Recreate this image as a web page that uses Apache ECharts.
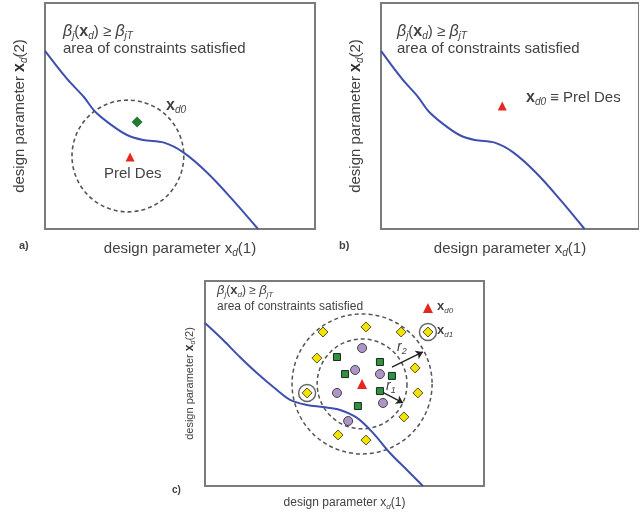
<!DOCTYPE html>
<html>
<head>
<meta charset="utf-8">
<script src="https://cdn.jsdelivr.net/npm/echarts@6/dist/echarts.min.js"></script>
<style>
  html, body { margin: 0; padding: 0; background: #fff; }
  #chart { width: 639px; height: 516px; }
</style>
</head>
<body>
<div id="chart"></div>
<script>
// Constraint boundary beta_j(x_d) = beta_jT, normalised design space (panels a and b)
const boundaryAB = [
  [0, 0.788], [0.081, 0.665], [0.144, 0.584], [0.185, 0.520], [0.244, 0.462],
  [0.304, 0.416], [0.363, 0.394], [0.441, 0.382], [0.511, 0.340], [0.600, 0.250],
  [0.696, 0.128], [0.789, 0]
];
// Same boundary as drawn in panel c
const boundaryC = [
  [0, 0.795], [0.065, 0.712], [0.125, 0.629], [0.186, 0.551], [0.258, 0.468],
  [0.305, 0.420], [0.366, 0.395], [0.423, 0.385], [0.484, 0.371], [0.545, 0.332],
  [0.602, 0.259], [0.663, 0.161], [0.724, 0.078], [0.781, 0]
];

// Panel a: preliminary design, starting point x_d0 and search region [x, y, radius]
const prelDesA = [[0.315, 0.319]];
const startPointA = [[0.341, 0.473]];
const searchRegionA = [[0.307, 0.323, 0.207]];

// Panel b: starting point coincides with the preliminary design
const prelDesB = [[0.470, 0.544]];

// Panel c: sampling around x_d0 in two rings of radius r1 and r2
const centreC = [[0.563, 0.498]];
const ringRadiiC = [0.161, 0.251];
const outerSamplesC = [
  [0.423, 0.751], [0.577, 0.776], [0.703, 0.751], [0.401, 0.624], [0.753, 0.576],
  [0.763, 0.454], [0.713, 0.337], [0.477, 0.249], [0.577, 0.224], [0.366, 0.454]
];
const circleSamplesC = [
  [0.563, 0.673], [0.538, 0.566], [0.627, 0.546], [0.473, 0.454], [0.638, 0.405], [0.513, 0.317]
];
const squareSamplesC = [
  [0.473, 0.629], [0.627, 0.605], [0.502, 0.546], [0.670, 0.537], [0.627, 0.463], [0.548, 0.390]
];
const nextPointC = [[0.366, 0.454]];
const legendMarksC = { start: [[0.799, 0.868]], next: [[0.799, 0.751]] };
const radiusArrowsC = [
  [[0.634, 0.459], [0.710, 0.405]],
  [[0.670, 0.580], [0.781, 0.654]]
];

const FONT = '"Liberation Sans", Arial, sans-serif';
const TXT = '#424242';

function richSet(size) {
  const sub = Math.round(size * 0.68);
  return {
    n: { fontSize: size, fontFamily: FONT, color: TXT, lineHeight: size + 4 },
    x: { fontSize: size + 1, fontFamily: FONT, color: '#333', fontWeight: 'bold', lineHeight: size + 4 },
    s: { fontSize: sub, fontFamily: FONT, color: TXT, fontStyle: 'italic',
         lineHeight: sub + 1, verticalAlign: 'bottom' },
    b: { fontSize: size + 1, fontFamily: FONT, color: '#333', fontStyle: 'italic', lineHeight: size + 4 },
    p: { fontSize: size, fontFamily: FONT, color: '#222', fontWeight: 'bold', lineHeight: size + 4 }
  };
}

function frameGrid(left, top, width, height) {
  return { left, top, width, height, show: true, borderColor: '#7b7b7b', borderWidth: 2,
           backgroundColor: 'transparent', containLabel: false };
}

function axis(kind, idx, label, gap, size) {
  return {
    type: 'value', gridIndex: idx, min: 0, max: 1,
    axisLine: { show: false }, axisTick: { show: false }, axisLabel: { show: false },
    splitLine: { show: false },
    name: label, nameLocation: 'middle', nameGap: gap,
    nameRotate: kind === 'y' ? 90 : 0,
    nameTextStyle: { fontFamily: FONT, fontSize: size, color: TXT, rich: richSet(size) }
  };
}

const xName = '{n|design parameter }{n|x}{s|d}{n|(1)}';
const yName = '{n|design parameter }{x|x}{s|d}{n|(2)}';

function boundarySeries(data, idx) {
  return {
    type: 'line', xAxisIndex: idx, yAxisIndex: idx, data, smooth: 0.35,
    showSymbol: false, symbol: 'none', z: 3,
    lineStyle: { color: '#3e4fae', width: 2 }
  };
}

function triangle(data, idx, size) {
  return {
    type: 'scatter', xAxisIndex: idx, yAxisIndex: idx, data, symbol: 'triangle',
    symbolSize: size, z: 7, itemStyle: { color: '#e8261f', opacity: 1 }
  };
}

function textEl(left, top, text, size) {
  return { type: 'text', left, top, z: 20,
           style: { text, rich: richSet(size), font: size + 'px ' + FONT, fill: TXT } };
}

const titleLine = '{b|β}{s|j}{n|(}{x|x}{s|d}{n|) ≥ }{b|β}{s|jT}';

const option = {
  animation: false,
  backgroundColor: '#fff',
  textStyle: { fontFamily: FONT },
  grid: [frameGrid(45, 3, 270, 226), frameGrid(381, 3, 270, 226), frameGrid(205, 281, 279, 205)],
  xAxis: [axis('x', 0, xName, 10, 15), axis('x', 1, xName, 10, 15), axis('x', 2, xName, 9, 12)],
  yAxis: [axis('y', 0, yName, 16, 15), axis('y', 1, yName, 16, 15), axis('y', 2, yName, 8, 11)],
  series: [
    // panel a
    {
      type: 'custom', xAxisIndex: 0, yAxisIndex: 0, data: searchRegionA, z: 2,
      renderItem: function (params, api) {
        const c = api.coord([api.value(0), api.value(1)]);
        return {
          type: 'circle',
          shape: { cx: c[0], cy: c[1], r: api.size([api.value(2), 0])[0] },
          style: { fill: 'none', stroke: '#555', lineWidth: 1.6, lineDash: [4, 3] }
        };
      }
    },
    boundarySeries(boundaryAB, 0),
    triangle(prelDesA, 0, 9),
    {
      type: 'scatter', xAxisIndex: 0, yAxisIndex: 0, data: startPointA, symbol: 'diamond',
      symbolSize: 11, z: 6, itemStyle: { color: '#237a32', opacity: 1 }
    },
    // panel b
    boundarySeries(boundaryAB, 1),
    triangle(prelDesB, 1, 9),
    // panel c
    {
      type: 'custom', xAxisIndex: 2, yAxisIndex: 2, data: centreC, z: 2,
      renderItem: function (params, api) {
        const c = api.coord([api.value(0), api.value(1)]);
        return {
          type: 'group',
          children: ringRadiiC.map(rr => ({
            type: 'circle',
            shape: { cx: c[0], cy: c[1], r: api.size([rr, 0])[0] },
            style: { fill: 'none', stroke: '#555', lineWidth: 1.5, lineDash: [4, 3] }
          }))
        };
      }
    },
    boundarySeries(boundaryC, 2),
    {
      type: 'lines', coordinateSystem: 'cartesian2d', xAxisIndex: 2, yAxisIndex: 2, z: 5,
      data: radiusArrowsC.map(c => ({ coords: c })),
      symbol: ['none', 'arrow'], symbolSize: [0, 7],
      lineStyle: { color: '#222', width: 1.4, opacity: 1, curveness: 0 }
    },
    {
      type: 'scatter', xAxisIndex: 2, yAxisIndex: 2, symbol: 'circle', symbolSize: 17, z: 5,
      data: nextPointC.concat(legendMarksC.next),
      itemStyle: { color: '#fff', borderColor: '#666', borderWidth: 1.5, opacity: 1 }
    },
    {
      type: 'scatter', xAxisIndex: 2, yAxisIndex: 2, symbol: 'diamond', symbolSize: 10, z: 6,
      data: outerSamplesC.concat(legendMarksC.next),
      itemStyle: { color: '#f2e300', borderColor: '#55502a', borderWidth: 1, opacity: 1 }
    },
    {
      type: 'scatter', xAxisIndex: 2, yAxisIndex: 2, symbol: 'circle', symbolSize: 9, z: 6,
      data: circleSamplesC,
      itemStyle: { color: '#ad95c8', borderColor: '#444', borderWidth: 1, opacity: 1 }
    },
    {
      type: 'scatter', xAxisIndex: 2, yAxisIndex: 2, symbol: 'rect', symbolSize: 7, z: 6,
      data: squareSamplesC,
      itemStyle: { color: '#2c9440', borderColor: '#222', borderWidth: 1, opacity: 1 }
    },
    triangle(centreC.concat(legendMarksC.start), 2, 10)
  ],
  graphic: [
    // panel a annotations
    textEl(63, 24, titleLine, 15),
    textEl(63, 41, '{n|area of constraints satisfied}', 15),
    textEl(166, 98, '{x|x}{s|d0}', 15),
    textEl(104, 166, '{n|Prel Des}', 15),
    textEl(19, 240, '{p|a)}', 11),
    // panel b annotations
    textEl(397, 24, titleLine, 15),
    textEl(397, 41, '{n|area of constraints satisfied}', 15),
    textEl(526, 90, '{x|x}{s|d0}{n| ≡ Prel Des}', 15),
    textEl(339, 240, '{p|b)}', 11),
    // panel c annotations
    textEl(217, 284, titleLine, 12),
    textEl(217, 301, '{n|area of constraints satisfied}', 12),
    textEl(437, 300, '{x|x}{s|d0}', 12),
    textEl(437, 324, '{x|x}{s|d1}', 12),
    textEl(397, 340, '{b|r}{s|2}', 13),
    textEl(386, 379, '{b|r}{s|1}', 13),
    textEl(172, 485, '{p|c)}', 10)
  ]
};

const chart = echarts.init(document.getElementById('chart'), null, { renderer: 'canvas' });
chart.setOption(option);
</script>
</body>
</html>
